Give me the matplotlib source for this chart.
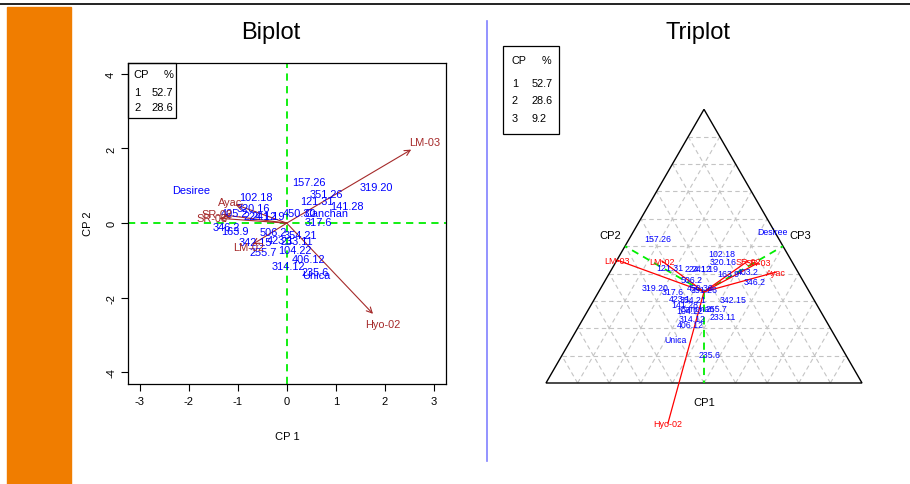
import numpy as np
import matplotlib.pyplot as plt
from matplotlib.patches import Rectangle, Polygon

plt.rcParams['font.family'] = ['Liberation Sans', 'DejaVu Sans']
plt.rcParams['axes.unicode_minus'] = False

# explained variance per component
cp_num = ["1", "2", "3"]
cp_pct = ["52.7", "28.6", "9.2"]

# biplot: genotype scores (CP1, CP2)
geno_names = ["Desiree", "102.18", "320.16", "405.2", "224.12", "241.19", "346.2",
              "163.9", "157.26", "319.20", "351.26", "121.31", "141.28", "450.30",
              "Canchan", "317.6", "506.2", "354.21", "233.11", "342.15", "104.22",
              "255.7", "406.12", "314.12", "235.6", "Unica", "423.1"]
geno_x = [-1.96, -0.63, -0.68, -1.06, -0.55, -0.38, -1.23, -1.06, 0.46, 1.82, 0.80,
          0.61, 1.23, 0.27, 0.82, 0.65, -0.27, 0.27, 0.20, -0.65, 0.17, -0.48, 0.44,
          0.03, 0.58, 0.61, -0.14]
geno_y = [0.89, 0.71, 0.40, 0.27, 0.20, 0.18, -0.11, -0.20, 1.11, 0.98, 0.79, 0.60,
          0.47, 0.27, 0.27, 0.02, -0.23, -0.31, -0.47, -0.51, -0.71, -0.78, -0.96,
          -1.14, -1.30, -1.39, -0.45]

# biplot: environment vectors (arrow tips)
var_names = ["LM-03", "Hyo-02", "Ayac", "SR-02", "SR-03", "LM-02"]
var_x = [2.54, 1.76, -1.05, -1.29, -1.38, -0.70]
var_y = [1.97, -2.43, 0.50, 0.22, 0.13, -0.57]

# triplot: positions inside the unit-base triangle
tri_names = ["157.26", "Desiree", "102.18", "320.16", "121.31", "224.12", "241.19",
             "163.9", "403.2", "346.2", "506.2", "319.20", "317.6", "450.30", "423.1",
             "354.21", "342.15", "141.28", "Canchan", "255.7", "104.22", "233.11",
             "314.12", "406.12", "Unica", "235.6", "351.26"]
tri_x = [0.354, 0.715, 0.557, 0.560, 0.392, 0.481, 0.503, 0.576, 0.639, 0.661, 0.462,
         0.345, 0.402, 0.487, 0.424, 0.465, 0.592, 0.440, 0.478, 0.541, 0.456, 0.560,
         0.462, 0.456, 0.411, 0.519, 0.500]
tri_y = [0.456, 0.478, 0.411, 0.386, 0.364, 0.361, 0.361, 0.345, 0.354, 0.320, 0.326,
         0.301, 0.288, 0.301, 0.266, 0.263, 0.263, 0.250, 0.237, 0.237, 0.231, 0.209,
         0.203, 0.184, 0.139, 0.089, 0.296]

tri_var_names = ["LM-03", "LM-02", "SR-02", "SR-03", "Ayac", "Hyo-02"]
tri_var_x = [0.225, 0.367, 0.639, 0.671, 0.728, 0.386]
tri_var_y = [0.389, 0.386, 0.386, 0.380, 0.351, -0.127]

W, H = 910, 485
fig = plt.figure(figsize=(W / 100, H / 100), dpi=100)


def fx(x):
    return x / W


def fy(y):
    return 1 - y / H


# page decoration
fig.patches.append(Rectangle((fx(7), 0), fx(64), fy(8), transform=fig.transFigure,
                             color="#F07D00", zorder=0))
fig.add_artist(plt.Line2D([0, 1], [fy(5), fy(5)], color="#222222", lw=1.4))
fig.add_artist(plt.Line2D([fx(487), fx(487)], [fy(22), fy(462)], color="#8080FF", lw=1.2))

# ---------------- Biplot ----------------
ax = fig.add_axes([fx(128), fy(385), fx(318), 321 / H])
ax.set_xlim(-3.24, 3.25)
ax.set_ylim(-4.31, 4.29)
ax.axvline(0, color="#00EE00", ls=(0, (4, 3)), lw=1.3, zorder=1)
ax.axhline(0, color="#00EE00", ls=(0, (4, 3)), lw=1.3, zorder=1)

for name, x, y in zip(geno_names, geno_x, geno_y):
    ax.text(x, y, name, color="blue", fontsize=7.9, ha="center", va="center", zorder=3)

for name, x, y in zip(var_names, var_x, var_y):
    ax.annotate("", xy=(x, y), xytext=(0, 0),
                arrowprops=dict(arrowstyle="->", color="#A52A2A", lw=0.8,
                                shrinkA=0, shrinkB=0, mutation_scale=10), zorder=2)
    ax.text(x * 1.11, y * 1.11, name, color="#A52A2A", fontsize=7.9,
            ha="center", va="center", zorder=3)

ax.set_xticks(range(-3, 4))
ax.set_yticks([-4, -2, 0, 2, 4])
ax.tick_params(direction="out", length=5, labelsize=8, width=0.8)
for lab in ax.get_yticklabels():
    lab.set_rotation(90)
    lab.set_va("center")
for s in ax.spines.values():
    s.set_linewidth(0.9)

fig.text(fx(287), fy(437), "CP 1", fontsize=8, ha="center", va="center")
fig.text(fx(88), fy(224), "CP 2", fontsize=8, ha="center", va="center", rotation=90)
fig.text(fx(271), fy(33), "Biplot", fontsize=17, ha="center", va="center")

# legend box
fig.patches.append(Rectangle((fx(128), fy(119)), fx(48), 55 / H, transform=fig.transFigure,
                             fill=False, ec="black", lw=0.9))
fig.text(fx(133), fy(75), "CP", fontsize=8, va="center")
fig.text(fx(173), fy(75), "%", fontsize=8, va="center", ha="right")
for i in range(2):
    yy = 93 + 15 * i
    fig.text(fx(134), fy(yy), cp_num[i], fontsize=8, va="center")
    fig.text(fx(173), fy(yy), cp_pct[i], fontsize=8, va="center", ha="right")

# ---------------- Triplot ----------------
tx = fig.add_axes([fx(500), fy(440), fx(408), 345 / H])
tx.set_xlim((500 - 546) / 316, (908 - 546) / 316)
tx.set_ylim((384 - 440) / 316, (384 - 95) / 316)
tx.axis("off")

h = np.sqrt(3) / 2
grid_kw = dict(color="#C4C4C4", ls=(0, (4, 3)), lw=0.8, zorder=1)
for k in range(1, 10):
    t = k / 10
    tx.plot([t / 2, 1 - t / 2], [t * h, t * h], **grid_kw)
    tx.plot([t, t + 0.5 * (1 - t)], [0, h * (1 - t)], **grid_kw)
    tx.plot([t, t / 2], [0, h * t], **grid_kw)
tx.add_patch(Polygon([[0, 0], [1, 0], [0.5, h]], closed=True, fill=False,
                     ec="black", lw=1, zorder=2))

cx, cy = 0.5, h / 3
for mx, my in [(0.5, 0), (0.25, h / 2), (0.75, h / 2)]:
    tx.plot([cx, mx], [cy, my], color="#00EE00", ls=(0, (4, 3)), lw=1.3, zorder=3)

for name, x, y in zip(tri_var_names, tri_var_x, tri_var_y):
    tx.plot([cx, x], [cy, y], color="red", lw=0.9, zorder=4)
    tx.text(x, y, name, color="red", fontsize=6.5, ha="center", va="center", zorder=5)

for name, x, y in zip(tri_names, tri_x, tri_y):
    tx.text(x, y, name, color="blue", fontsize=6.3, ha="center", va="center", zorder=5)

tx.text(0.5, -0.06, "CP1", fontsize=8, ha="center", va="center")
tx.text(0.203, 0.468, "CP2", fontsize=8, ha="center", va="center")
tx.text(0.804, 0.468, "CP3", fontsize=8, ha="center", va="center")
fig.text(fx(698), fy(33), "Triplot", fontsize=17, ha="center", va="center")

fig.patches.append(Rectangle((fx(503), fy(135)), fx(56), 88 / H, transform=fig.transFigure,
                             fill=False, ec="black", lw=0.9))
fig.text(fx(511), fy(61), "CP", fontsize=7.8, va="center")
fig.text(fx(551), fy(61), "%", fontsize=7.8, va="center", ha="right")
for i in range(3):
    yy = 84 + 17.5 * i
    fig.text(fx(512), fy(yy), cp_num[i], fontsize=7.8, va="center")
    fig.text(fx(532), fy(yy), cp_pct[i], fontsize=7.8, va="center")

fig.savefig("out.png", dpi=100)
